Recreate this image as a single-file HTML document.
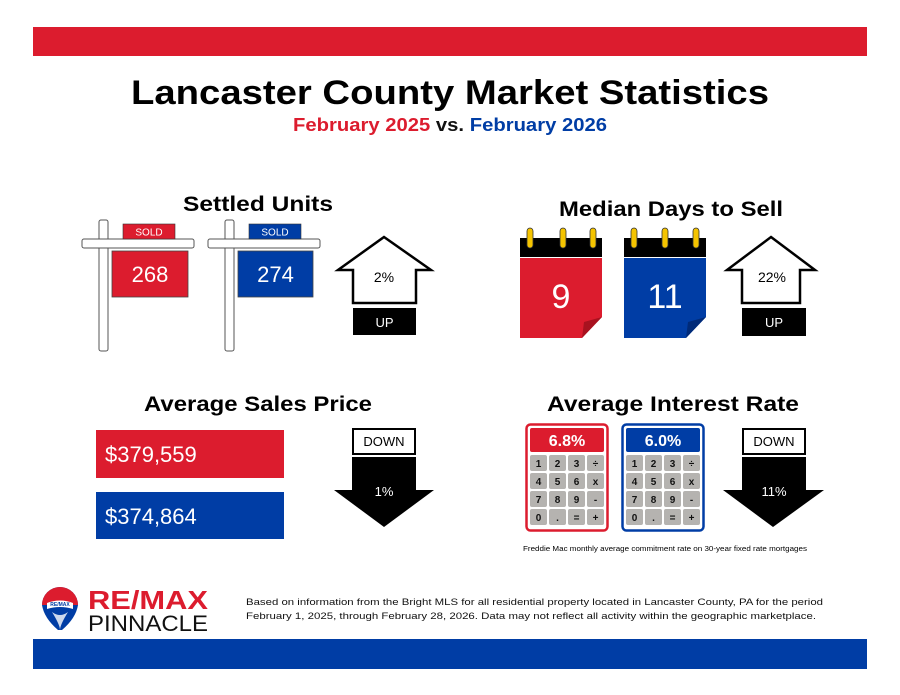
<!DOCTYPE html>
<html><head><meta charset="utf-8"><style>
html,body{margin:0;padding:0;background:#fff;}
svg{display:block;}
text{font-family:"Liberation Sans",sans-serif;}
</style></head><body>
<svg width="900" height="695" viewBox="0 0 900 695" xmlns="http://www.w3.org/2000/svg">
<rect x="0" y="0" width="900" height="695" fill="#fff"/>
<rect x="33" y="27" width="834" height="29" fill="#dc1c2e"/>
<rect x="33" y="639" width="834" height="30" fill="#003da5"/>

<text x="450" y="104" text-anchor="middle" font-size="34" font-weight="bold" textLength="638" lengthAdjust="spacingAndGlyphs">Lancaster County Market Statistics</text>
<text x="450" y="131" text-anchor="middle" font-size="18" font-weight="bold" textLength="314" lengthAdjust="spacingAndGlyphs"><tspan fill="#dc1c2e">February 2025</tspan> <tspan fill="#111">vs.</tspan> <tspan fill="#003da5">February 2026</tspan></text>

<text x="258" y="211" text-anchor="middle" font-size="21" font-weight="bold" textLength="150" lengthAdjust="spacingAndGlyphs">Settled Units</text>
<text x="671" y="216" text-anchor="middle" font-size="21" font-weight="bold" textLength="224" lengthAdjust="spacingAndGlyphs">Median Days to Sell</text>
<text x="258" y="411" text-anchor="middle" font-size="21" font-weight="bold" textLength="228" lengthAdjust="spacingAndGlyphs">Average Sales Price</text>
<text x="673" y="411" text-anchor="middle" font-size="21" font-weight="bold" textLength="252" lengthAdjust="spacingAndGlyphs">Average Interest Rate</text>

<!-- signs -->
<g stroke="#555" stroke-width="1" fill="#fff">
<rect x="99" y="220" width="9" height="131" rx="2"/>
<rect x="82" y="239" width="112" height="9" rx="2"/>
<rect x="225" y="220" width="9" height="131" rx="2"/>
<rect x="208" y="239" width="112" height="9" rx="2"/>
</g>
<rect x="123" y="224" width="52" height="15" fill="#dc1c2e" stroke="#333" stroke-width="0.6"/>
<text x="149" y="235.5" text-anchor="middle" font-size="10" fill="#fff">SOLD</text>
<rect x="249" y="224" width="52" height="15" fill="#003da5" stroke="#333" stroke-width="0.6"/>
<text x="275" y="235.5" text-anchor="middle" font-size="10" fill="#fff">SOLD</text>
<rect x="112" y="251" width="76" height="46" fill="#dc1c2e" stroke="#444" stroke-width="0.8"/>
<text x="150" y="282" text-anchor="middle" font-size="22" fill="#fff">268</text>
<rect x="238" y="251" width="75" height="46" fill="#003da5" stroke="#444" stroke-width="0.8"/>
<text x="275.5" y="282" text-anchor="middle" font-size="22" fill="#fff">274</text>

<!-- up arrows -->
<polygon points="384,237 431,270 416,270 416,303 353,303 353,270 338,270" fill="#fff" stroke="#000" stroke-width="2.5" stroke-linejoin="miter"/>
<text x="384" y="282" text-anchor="middle" font-size="14">2%</text>
<rect x="353" y="308" width="63" height="27" fill="#000"/>
<text x="384.5" y="327" text-anchor="middle" font-size="13" fill="#fff">UP</text>

<polygon points="771,237 815,270 800,270 800,303 742,303 742,270 727,270" fill="#fff" stroke="#000" stroke-width="2.5"/>
<text x="772" y="282" text-anchor="middle" font-size="14">22%</text>
<rect x="742" y="308" width="64" height="28" fill="#000"/>
<text x="774" y="327" text-anchor="middle" font-size="13" fill="#fff">UP</text>

<!-- calendars -->
<rect x="520" y="238" width="82" height="19" fill="#000"/>
<polygon points="520,258 602,258 602,317 582,338 520,338" fill="#dc1c2e"/>
<polygon points="582,338 602,317 584,322" fill="#a8121f"/>
<g fill="#f5c400" stroke="#333" stroke-width="0.8">
<rect x="527" y="228" width="6" height="20" rx="3"/><rect x="560" y="228" width="6" height="20" rx="3"/><rect x="590" y="228" width="6" height="20" rx="3"/>
</g>
<text x="561" y="308" text-anchor="middle" font-size="34" fill="#fff">9</text>

<rect x="624" y="238" width="82" height="19" fill="#000"/>
<polygon points="624,258 706,258 706,317 686,338 624,338" fill="#003da5"/>
<polygon points="686,338 706,317 688,322" fill="#002a78"/>
<g fill="#f5c400" stroke="#333" stroke-width="0.8">
<rect x="631" y="228" width="6" height="20" rx="3"/><rect x="662" y="228" width="6" height="20" rx="3"/><rect x="693" y="228" width="6" height="20" rx="3"/>
</g>
<text x="665" y="308" text-anchor="middle" font-size="34" fill="#fff">11</text>

<!-- price bars -->
<rect x="96" y="430" width="188" height="48" fill="#dc1c2e"/>
<text x="105" y="462" font-size="22" fill="#fff">$379,559</text>
<rect x="96" y="492" width="188" height="47" fill="#003da5"/>
<text x="105" y="524" font-size="22" fill="#fff">$374,864</text>

<!-- down arrows -->
<rect x="353" y="429" width="62" height="25" fill="#fff" stroke="#000" stroke-width="2"/>
<text x="384" y="446" text-anchor="middle" font-size="13">DOWN</text>
<polygon points="352,457 416,457 416,490 434,490 384,527 334,490 352,490" fill="#000"/>
<text x="384" y="496" text-anchor="middle" font-size="13" fill="#fff">1%</text>

<rect x="743" y="429" width="62" height="25" fill="#fff" stroke="#000" stroke-width="2"/>
<text x="774" y="446" text-anchor="middle" font-size="13">DOWN</text>
<polygon points="742,457 806,457 806,490 824,490 773,527 723,490 742,490" fill="#000"/>
<text x="774" y="496" text-anchor="middle" font-size="13" fill="#fff">11%</text>

<!-- calculators -->
<g id="c1">
<rect x="526.5" y="424.5" width="81" height="106" rx="4" fill="#fff" stroke="#dc1c2e" stroke-width="2.5"/>
<rect x="530" y="428" width="74" height="24" rx="2" fill="#dc1c2e"/>
<text x="567" y="446" text-anchor="middle" font-size="16" font-weight="bold" fill="#fff">6.8%</text>
</g>
<rect x="622.5" y="424.5" width="81" height="106" rx="4" fill="#fff" stroke="#003da5" stroke-width="2.5"/>
<rect x="626" y="428" width="74" height="24" rx="2" fill="#003da5"/>
<text x="663" y="446" text-anchor="middle" font-size="16" font-weight="bold" fill="#fff">6.0%</text>
<g font-size="10" font-weight="bold" text-anchor="middle" fill="#111">
<g fill="#b5b3b0">
<rect x="530" y="455" width="17" height="16" rx="2"/><rect x="549" y="455" width="17" height="16" rx="2"/><rect x="568" y="455" width="17" height="16" rx="2"/><rect x="587" y="455" width="17" height="16" rx="2"/>
<rect x="530" y="473" width="17" height="16" rx="2"/><rect x="549" y="473" width="17" height="16" rx="2"/><rect x="568" y="473" width="17" height="16" rx="2"/><rect x="587" y="473" width="17" height="16" rx="2"/>
<rect x="530" y="491" width="17" height="16" rx="2"/><rect x="549" y="491" width="17" height="16" rx="2"/><rect x="568" y="491" width="17" height="16" rx="2"/><rect x="587" y="491" width="17" height="16" rx="2"/>
<rect x="530" y="509" width="17" height="16" rx="2"/><rect x="549" y="509" width="17" height="16" rx="2"/><rect x="568" y="509" width="17" height="16" rx="2"/><rect x="587" y="509" width="17" height="16" rx="2"/>
<rect x="626" y="455" width="17" height="16" rx="2"/><rect x="645" y="455" width="17" height="16" rx="2"/><rect x="664" y="455" width="17" height="16" rx="2"/><rect x="683" y="455" width="17" height="16" rx="2"/>
<rect x="626" y="473" width="17" height="16" rx="2"/><rect x="645" y="473" width="17" height="16" rx="2"/><rect x="664" y="473" width="17" height="16" rx="2"/><rect x="683" y="473" width="17" height="16" rx="2"/>
<rect x="626" y="491" width="17" height="16" rx="2"/><rect x="645" y="491" width="17" height="16" rx="2"/><rect x="664" y="491" width="17" height="16" rx="2"/><rect x="683" y="491" width="17" height="16" rx="2"/>
<rect x="626" y="509" width="17" height="16" rx="2"/><rect x="645" y="509" width="17" height="16" rx="2"/><rect x="664" y="509" width="17" height="16" rx="2"/><rect x="683" y="509" width="17" height="16" rx="2"/>
</g>
<text x="538.5" y="467">1</text><text x="557.5" y="467">2</text><text x="576.5" y="467">3</text><text x="595.5" y="467">÷</text>
<text x="538.5" y="485">4</text><text x="557.5" y="485">5</text><text x="576.5" y="485">6</text><text x="595.5" y="485">x</text>
<text x="538.5" y="503">7</text><text x="557.5" y="503">8</text><text x="576.5" y="503">9</text><text x="595.5" y="503">-</text>
<text x="538.5" y="521">0</text><text x="557.5" y="521">.</text><text x="576.5" y="521">=</text><text x="595.5" y="521">+</text>
<text x="634.5" y="467">1</text><text x="653.5" y="467">2</text><text x="672.5" y="467">3</text><text x="691.5" y="467">÷</text>
<text x="634.5" y="485">4</text><text x="653.5" y="485">5</text><text x="672.5" y="485">6</text><text x="691.5" y="485">x</text>
<text x="634.5" y="503">7</text><text x="653.5" y="503">8</text><text x="672.5" y="503">9</text><text x="691.5" y="503">-</text>
<text x="634.5" y="521">0</text><text x="653.5" y="521">.</text><text x="672.5" y="521">=</text><text x="691.5" y="521">+</text>
</g>
<text x="523" y="551" font-size="7" textLength="284" lengthAdjust="spacingAndGlyphs">Freddie Mac monthly average commitment rate on 30-year fixed rate mortgages</text>

<!-- logo -->
<path d="M42,605 A18,18 0 0 1 78,605 Q76,618 62,630 L58,630 Q44,618 42,605 Z" fill="#003da5"/>
<path d="M42,605 A18,18 0 0 1 78,605 L42,605 Z" fill="#dc1c2e"/>
<path d="M47,603 Q60,598 73,603 L73,609 Q60,605 47,609 Z" fill="#fff"/>
<text x="60" y="606" text-anchor="middle" font-size="5" font-weight="bold" fill="#003da5">RE/MAX</text>
<path d="M52,612 Q60,625 60,630 Q60,625 68,612 Q60,618 52,612Z" fill="#fff" opacity="0.8"/>
<text x="88" y="609" font-size="26" font-weight="bold" fill="#dc1c2e" textLength="120" lengthAdjust="spacingAndGlyphs">RE/MAX</text>
<text x="88" y="631" font-size="22" fill="#111" textLength="120" lengthAdjust="spacingAndGlyphs">PINNACLE</text>

<text x="246" y="605" font-size="9.5" fill="#111" textLength="577" lengthAdjust="spacingAndGlyphs">Based on information from the Bright MLS for all residential property located in Lancaster County, PA for the period</text>
<text x="246" y="619" font-size="9.5" fill="#111" textLength="570" lengthAdjust="spacingAndGlyphs">February 1, 2025, through February 28, 2026.  Data may not reflect all activity within the geographic marketplace.</text>
</svg>
</body></html>
